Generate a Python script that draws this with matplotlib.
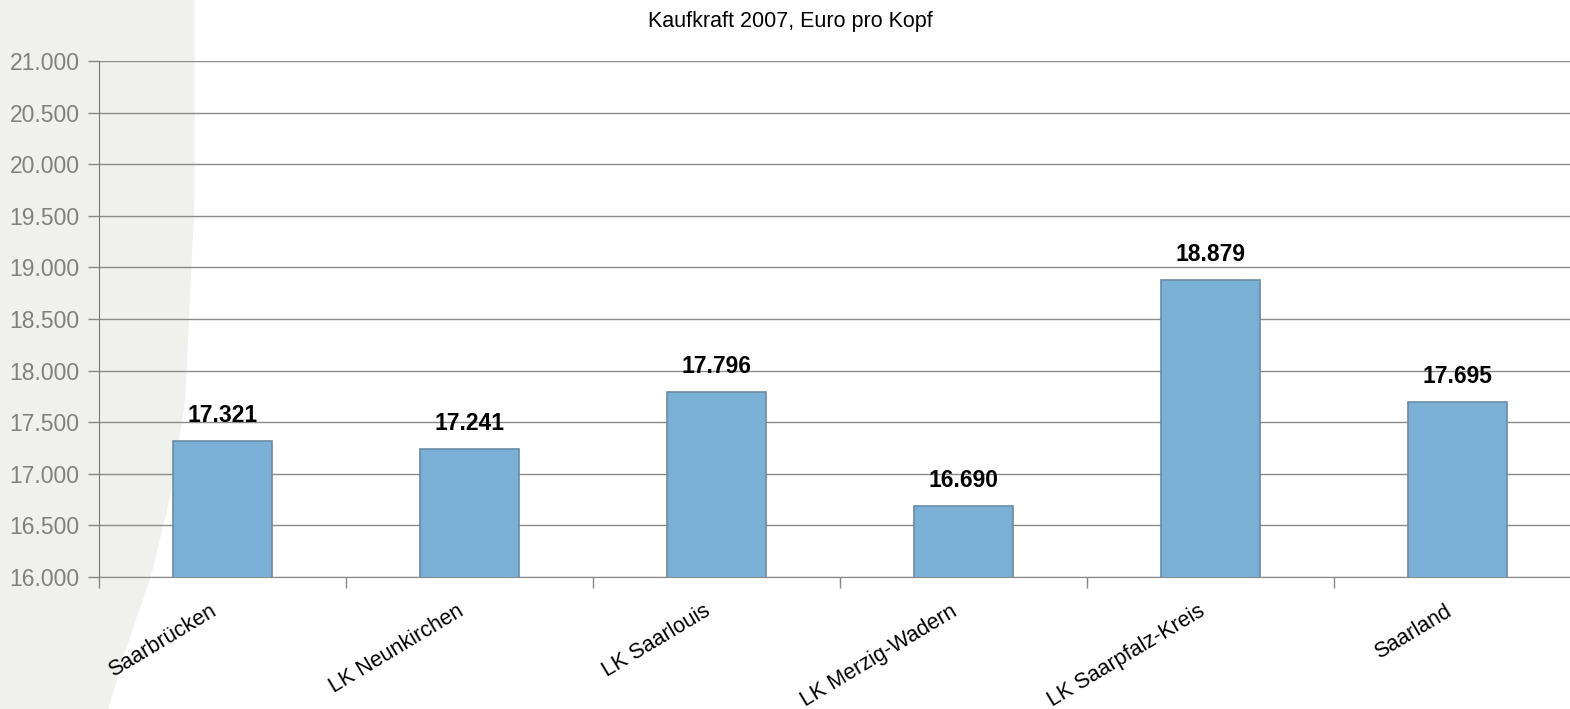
import numpy as np
import matplotlib.pyplot as plt
import matplotlib.transforms as mtransforms
from matplotlib.patches import Polygon
from matplotlib.ticker import FuncFormatter

plt.rcParams["font.family"] = ["Liberation Sans", "DejaVu Sans"]

regions = ["Saarbrücken", "LK Neunkirchen", "LK Saarlouis", "LK Merzig-Wadern",
           "LK Saarpfalz-Kreis", "Saarland"]
kaufkraft = [17321, 17241, 17796, 16690, 18879, 17695]
value_labels = ["17.321", "17.241", "17.796", "16.690", "18.879", "17.695"]
y_ticks = np.arange(16000, 21001, 500)

fig = plt.figure(figsize=(15.7, 7.09), dpi=100)

# light grey decoration on the left edge
bg = Polygon([(0, 0), (0, 1), (0.124, 1), (0.124, 0.72), (0.118, 0.436),
              (0.108, 0.295), (0.0955, 0.182), (0.08, 0.083), (0.069, 0)],
             closed=True, transform=fig.transFigure, facecolor="#f0f1ed",
             edgecolor="none", zorder=-10)
fig.patches.append(bg)

ax = fig.add_axes([99 / 1570, 1 - 577 / 709, 1482 / 1570, (577 - 61) / 709])
ax.patch.set_alpha(0)

x = np.arange(len(regions))
bars = ax.bar(x, kaufkraft, width=0.4, bottom=0, color="#7ab0d6",
              edgecolor="#6b8aa5", linewidth=1.2, zorder=3)

for xi, v, lab in zip(x, kaufkraft, value_labels):
    ax.annotate(lab, (xi, v), xytext=(0, 10), textcoords="offset points",
                ha="center", va="bottom", fontsize=16.5, fontweight="bold",
                color="black", zorder=4)

ax.set_ylim(16000, 21000)
ax.set_xlim(-0.5, len(regions) - 0.5)
ax.set_yticks(y_ticks)
ax.yaxis.set_major_formatter(FuncFormatter(lambda v, p: f"{v:,.0f}".replace(",", ".")))
ax.grid(axis="y", color="#8a8a8a", linewidth=1.0, zorder=0)

# category labels, rotated, right end just left of the category centre
ax.set_xticks([])
lab_trans = ax.get_xaxis_transform() + mtransforms.ScaledTranslation(
    -13 / 100, -24 / 100, fig.dpi_scale_trans)
for xi, name in zip(x, regions):
    ax.text(xi, 0, name, transform=lab_trans, rotation=31, ha="right", va="top",
            rotation_mode="anchor", fontsize=15.5, color="black")

ax.set_xticks(np.arange(-0.5, len(regions) - 0.5, 1), minor=True)
ax.tick_params(axis="x", which="minor", length=8, color="#888888", width=1)
ax.tick_params(axis="y", length=8, color="#888888", width=1, labelsize=16.5,
               labelcolor="#808080", pad=6)

for s in ["top", "right"]:
    ax.spines[s].set_visible(False)
ax.spines["left"].set_color("#777777")
ax.spines["bottom"].set_color("#888888")

fig.text(790 / 1570, 1 - 22 / 709, "Kaufkraft 2007, Euro pro Kopf",
         ha="center", va="center", fontsize=15.5)

fig.savefig("out.png", dpi=100)
